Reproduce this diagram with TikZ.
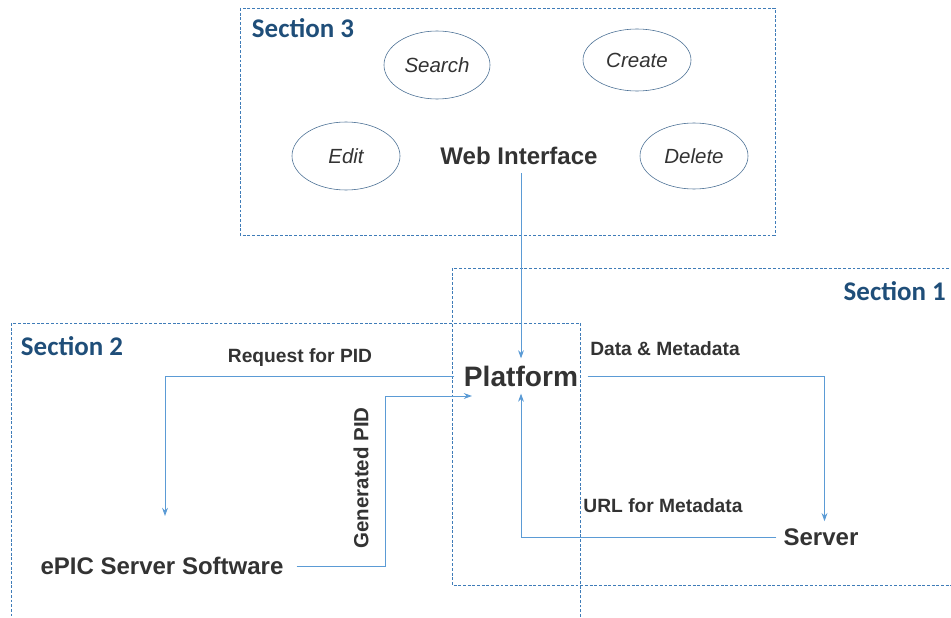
\documentclass[tikz,border=0pt]{standalone}
\usepackage{fontspec}
\setmainfont{Liberation Sans}
\newfontfamily\seclabelfont{Carlito}
\usetikzlibrary{arrows.meta}
\usetikzlibrary{shapes.geometric}
\usetikzlibrary{calc}

\definecolor{linkblue}{HTML}{5B9BD5}
\definecolor{boxblue}{HTML}{3F7CB8}
\definecolor{ovalblue}{HTML}{4A6F94}
\definecolor{secblue}{HTML}{1F4E79}
\definecolor{textgray}{HTML}{333333}

\tikzset{
  sectionbox/.style={draw=boxblue, line width=0.6pt, dash pattern=on 2.5pt off 1.5pt},
  sectiontitle/.style={text=secblue, font=\seclabelfont\bfseries\fontsize{23}{27}\selectfont, inner sep=0pt},
  action/.style={ellipse, draw=ovalblue, line width=0.5pt, text=textgray, inner sep=0pt,
    font=\itshape\fontsize{17.5}{20}\selectfont},
  part/.style={text=textgray, font=\bfseries\fontsize{20.5}{24}\selectfont, inner sep=7pt},
  flowlabel/.style={text=textgray, font=\bfseries\fontsize{16.4}{19}\selectfont, inner sep=0pt},
  link/.style={draw=linkblue, line width=0.8pt, -{Stealth[length=7pt,width=5pt]}}
}

\begin{document}
\begin{tikzpicture}[x=0.03cm, y=-0.03cm]
    \useasboundingbox (0,0) rectangle (951,618);

    % draw section boxes
    \draw[sectionbox] (240,8) rectangle (775,235);
    \draw[sectionbox] (452,268) rectangle (960,585);
    \draw[sectionbox] (11,323) rectangle (580,640);

    \node[sectiontitle] (sec3) at (303,28) {Section 3};
    \node[sectiontitle, anchor=east] (sec1) at (946,291) {Section 1};
    \node[sectiontitle] (sec2) at (72,346) {Section 2};

    % draw web interface actions
    \node[action, minimum width=3.18cm, minimum height=2.04cm] (search) at (437,65) {Search};
    \node[action, minimum width=3.24cm, minimum height=1.86cm] (create) at (637,60) {Create};
    \node[action, minimum width=3.24cm, minimum height=2.04cm] (edit) at (346,156) {Edit};
    \node[action, minimum width=3.24cm, minimum height=1.98cm] (delete) at (694,156) {Delete};

    % draw main parts
    \node[part] (web) at (519,156) {Web Interface};
    \node[part, font=\bfseries\fontsize{24}{28}\selectfont, inner xsep=8pt, inner ysep=6pt] (plat) at (521,376) {Platform};
    \node[part, inner xsep=11pt] (epic) at (162,566) {ePIC Server Software};
    \node[part, inner sep=6pt] (server) at (821,537) {Server};

    % arrow ends and turning points
    \coordinate (epicin) at (165,516);
    \coordinate (gpturn) at (385,0);
    \coordinate (gpin) at (472,396);

    % draw connectors
    \draw[link] (plat.north |- web.south) -- (plat.north);
    \draw[link] (plat.west) -| (epicin);
    \draw[link] (epic.east) -- (gpturn |- epic.east) |- (gpin);
    \draw[link] (plat.east) -| ([xshift=3pt]server.north);
    \draw[link] (server.west) -| (plat.south);

    % draw connector labels
    \node[flowlabel] (reqlbl) at (300,358) {Request for PID};
    \node[flowlabel, rotate=90, font=\bfseries\fontsize{17.5}{20}\selectfont] (genlbl) at (361,478) {Generated PID};
    \node[flowlabel] (datalbl) at (665,349) {Data \& Metadata};
    \node[flowlabel] (urllbl) at (663,506) {URL for Metadata};
\end{tikzpicture}
\end{document}
